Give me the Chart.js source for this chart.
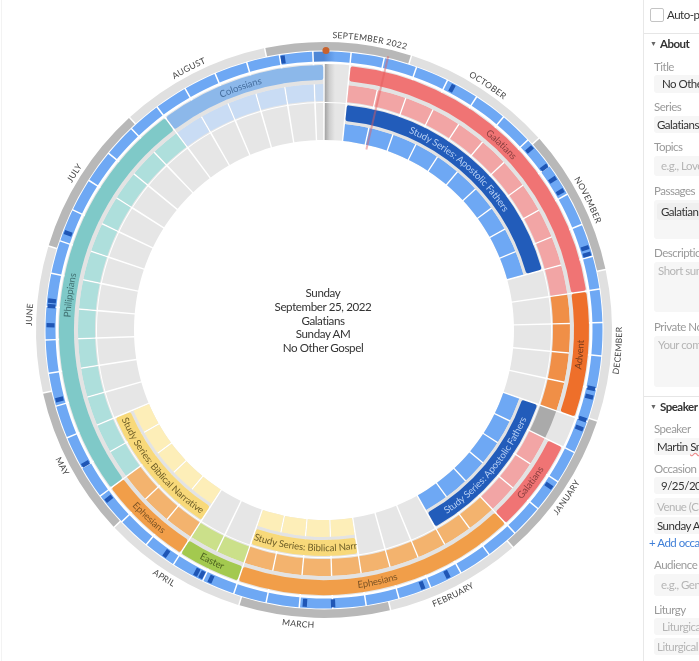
<!DOCTYPE html>
<html>
<head>
<meta charset="utf-8">
<script src="https://cdn.jsdelivr.net/npm/chart.js@4"></script>
<style>
    html, body { margin: 0; padding: 0; background: #fff; }
    body { width: 699px; height: 661px; overflow: hidden; position: relative; font-family: Lato, sans-serif; color: #333; }
    canvas, svg { position: absolute; }
    .layer { left: 24px; top: 30px; }
    #centerText { position: absolute; left: 223px; top: 286px; width: 200px; text-align: center; font-size: 11.6px; letter-spacing: -0.4px; line-height: 13.8px; color: #333; }
    #sidebar { position: absolute; left: 643px; top: 0; width: 56px; height: 661px; overflow: hidden; border-left: 1px solid #e8e8e8; font-size: 11.5px; letter-spacing: -0.5px; }
    #sidebar div { position: absolute; white-space: nowrap; }
    .lbl { left: 10px; color: #9a9a9a; }
    .val { left: 10px; right: -5px; background: #f6f6f6; border-radius: 3px; }
    .hr { left: 0; right: 0; height: 1px; background: #e6e6e6; }
    .head { left: 16px; font-weight: bold; color: #333; }
    .tri { left: 6px; font-size: 7px; color: #666; }
    .ph { color: #b5b5b5; }
</style>
</head>
<body>
<div style="position:absolute;left:1px;top:0;width:1px;height:661px;background:#f3f3f3"></div>
<canvas id="baseChart" class="layer" width="600" height="600"></canvas>
<canvas id="seriesChart" class="layer" width="600" height="600"></canvas>
<canvas id="todayChart" class="layer" width="600" height="600"></canvas>
<svg id="labels" width="699" height="661" style="left:0;top:0"></svg>
<div id="centerText">Sunday<br>September 25, 2022<br>Galatians<br>Sunday AM<br>No Other Gospel</div>

<div id="sidebar">
    <div style="left:6px;top:8px;width:12px;height:12px;border:1px solid #c4c4c4;border-radius:2px"></div>
    <div style="left:23px;top:8px;color:#333">Auto-pu</div>
    <div class="hr" style="top:33px"></div>
    <div class="tri" style="top:39px">▼</div><div class="head" style="top:37px">About</div>
    <div class="lbl" style="top:60px">Title</div>
    <div class="val" style="top:75px;height:18px;line-height:18px;padding-left:8px">No Other</div>
    <div class="lbl" style="top:100px">Series</div>
    <div class="val" style="top:116px;height:17px;line-height:17px;padding-left:3px">Galatians</div>
    <div class="lbl" style="top:140px">Topics</div>
    <div class="val ph" style="top:156px;height:20px;line-height:20px;padding-left:7px">e.g., Love</div>
    <div class="lbl" style="top:184px">Passages</div>
    <div class="val" style="top:200px;height:39px"></div>
    <div class="val" style="left:13px;top:203px;height:17px;line-height:17px;padding-left:4px;background:#efefef">Galatians</div>
    <div class="lbl" style="top:246px">Description</div>
    <div class="val ph" style="top:262px;height:50px;line-height:18px;padding-left:4px">Short sum</div>
    <div class="lbl" style="top:320px">Private Not</div>
    <div class="val ph" style="top:336px;height:51px;line-height:18px;padding-left:4px">Your comm</div>
    <div class="hr" style="top:396px"></div>
    <div class="tri" style="top:402px">▼</div><div class="head" style="top:400px">Speaker &amp;</div>
    <div class="lbl" style="top:422px">Speaker</div>
    <div class="val" style="top:438px;height:17px;line-height:17px;padding-left:3px">Martin <span style="text-decoration:underline wavy #e88">Sm</span></div>
    <div class="lbl" style="top:462px">Occasion</div>
    <div class="val" style="top:477px;height:17px;line-height:17px;padding-left:7px">9/25/202</div>
    <div class="val ph" style="top:498px;height:17px;line-height:17px;padding-left:3px">Venue (Ch</div>
    <div class="val" style="top:517px;height:17px;line-height:17px;padding-left:3px">Sunday Al</div>
    <div style="left:5px;top:536px;color:#3f7fd8">+ Add occas</div>
    <div class="lbl" style="top:558px">Audience</div>
    <div class="val ph" style="top:574px;height:22px;line-height:22px;padding-left:7px">e.g., Gene</div>
    <div class="lbl" style="top:603px">Liturgy</div>
    <div class="val ph" style="top:618px;height:17px;line-height:17px;padding-left:8px">Liturgica</div>
    <div class="val ph" style="top:638px;height:17px;line-height:17px;padding-left:3px">Liturgical</div>
</div>

<script>
// Months around the outer band, in days
const monthNames = ['SEPTEMBER 2022', 'OCTOBER', 'NOVEMBER', 'DECEMBER', 'JANUARY', 'FEBRUARY', 'MARCH', 'APRIL', 'MAY', 'JUNE', 'JULY', 'AUGUST'];
const monthDays = [30, 31, 30, 31, 31, 28, 31, 30, 31, 30, 31, 31];
const monthLabelAngles = [9, 33.8, 63.8, 94, 124.6, 154, 185, 212.8, 242.5, 273, 302.2, 332.7];

// Weekly blue cells, in days (the first one runs across the top seam)
const weekDays = [8, 7, 7, 7, 7, 7, 7, 7, 7, 7, 7, 7, 7, 7, 7, 7, 7, 7, 7, 7, 7, 7, 7, 7, 7, 7,
    7, 7, 7, 7, 7, 7, 7, 7, 7, 7, 7, 7, 7, 7, 7, 7, 7, 7, 7, 7, 7, 7, 7, 7, 7, 7];

// Sunday columns of the inner rings, in days, starting at the top seam
const columnDays = [5.7, 7, 7, 7, 7, 7, 7, 7, 7, 7, 7, 7, 7, 7, 7, 7, 7, 7, 7, 7, 7, 7, 7, 7, 7, 7, 7,
    7, 7, 7, 7, 7, 7, 7, 7, 7, 7, 7, 7, 7, 7, 7, 7, 7, 7, 7, 7, 7, 7, 7, 7, 7, 2.3];

// Sermon series, as runs of columns
const seriesNames = ['None', 'Galatians', 'Advent', 'Break', 'Galatians', 'Ephesians', 'Easter', 'Ephesians', 'Philippians', 'Colossians'];
const seriesWeeks = [1, 11, 4, 1, 3, 9, 2, 3, 13, 6];

// Study series, as runs of columns
const studyNames = ['None', 'Apostolic', 'None', 'Apostolic', 'None', 'Narrative', 'None', 'Narrative', 'None'];
const studyWeeks = [1, 10, 5, 6, 3, 4, 2, 5, 17];

// Dark marks on the weekly band, degrees clockwise from the top
const tickAngles = [27.9, 48.7, 53.6, 56.7, 59.7, 72.6, 74, 102.3, 104.1, 109, 111, 124.7, 153.3, 159, 178.1, 184,
    204.4, 206.5, 207.7, 215.2, 231.9, 240.7, 255.3, 271, 275, 276.1, 290.7, 351.4];

// Today line and the marker at the top
const todayAngle = 13.2;
const todayRadii = [285, 188];
const markerAngle = 0.4;
const markerRadius = 283.4;

// Curved labels: text, centre angle, ring radius, colour
const ringLabels = [
    ['Galatians', 43.7, 257, '#8a3f3f'],
    ['Advent', 95.5, 257, '#7a3d1c'],
    ['Galatians', 126.5, 257, '#8a3f3f'],
    ['Ephesians', 168, 257, '#7f5525'],
    ['Easter', 205.8, 257, '#4e6420'],
    ['Ephesians', 223, 257, '#7f5525'],
    ['Philippians', 277.8, 257, '#3f6f70'],
    ['Colossians', 341, 257, '#466f9f'],
    ['Study Series: Apostolic Fathers', 40, 218, '#b4cdf2'],
    ['Study Series: Apostolic Fathers', 130, 218, '#b4cdf2'],
    ['Study Series: Biblical Narrative', 230, 218, '#6f5f28']
];
const clippedLabel = ['Study Series: Biblical Narrative', 198.6, 171.6, 218, '#6f5f28'];

const outerColors = {
    None: 'transparent', Break: 'transparent', Galatians: '#f07474', Advent: '#ee6f2a', Ephesians: '#f19e49',
    Easter: '#a3c94f', Philippians: '#7fc9c8', Colossians: '#8cb8ea', Apostolic: '#225cba', Narrative: '#f8d97a'
};
const lightColors = {
    None: 'transparent', Break: '#aaaaaa', Galatians: '#f2a5a5', Advent: '#f08f47', Ephesians: '#f3b36e',
    Easter: '#cbe08a', Philippians: '#aedfdc', Colossians: '#c9dcf4', Apostolic: '#6ea8f4', Narrative: '#fdeeb8'
};
const stripColor = '#e3e3e3';
const cellGray = '#e6e6e6';

const GAP_PX = 1.5;
const OUTER_R = 288;
const CUTOUT = (190 / 288 * 100) + '%';
const DEG_PER_DAY = 360 / 365;

function sumRuns(runs) {
    // days covered by each run of columns
    let col = 0;
    return runs.map(n => {
        let total = 0;
        for (let i = 0; i < n; i++) total += columnDays[col + i];
        col += n;
        return total;
    });
}

function expandRuns(names, runs) {
    const out = [];
    names.forEach((name, i) => {
        for (let k = 0; k < runs[i]; k++) out.push(name);
    });
    return out;
}

function ring(data, colors, weight, extra) {
    return Object.assign({ data: data, backgroundColor: colors, weight: weight, borderWidth: 0, rotation: 0 }, extra || {});
}

function skip(weight) {
    return ring([1], ['transparent'], weight);
}

// A ring of cells with thin see-through slices between them, so the white lines keep their width
function cellRing(days, colors, weight, midRadius, extra) {
    const gapDeg = GAP_PX / midRadius * 180 / Math.PI;
    const gapDays = gapDeg / DEG_PER_DAY;
    const data = [];
    const fills = [];
    days.forEach((d, i) => {
        data.push(d - gapDays, gapDays);
        fills.push(colors[i], 'transparent');
    });
    const base = (extra && extra.rotation) || 0;
    return ring(data, fills, weight, Object.assign({}, extra, { rotation: base + gapDeg / 2 }));
}

function doughnutConfig(datasets) {
    return {
        type: 'doughnut',
        data: { datasets: datasets },
        options: {
            responsive: false,
            animation: false,
            radius: OUTER_R,
            cutout: CUTOUT,
            layout: { padding: 0 },
            elements: { arc: { borderWidth: 0 } },
            plugins: { legend: { display: false }, tooltip: { enabled: false } }
        }
    };
}

// Base layer: months, weeks and the gray cells
const baseCtx = document.getElementById('baseChart').getContext('2d');

const seamGray = baseCtx.createLinearGradient(300, 0, 311, 0);
seamGray.addColorStop(0, '#9b9b9b');
seamGray.addColorStop(0.5, '#cfcfcf');
seamGray.addColorStop(1, cellGray);

const seamBlue = baseCtx.createLinearGradient(300, 0, 311, 0);
seamBlue.addColorStop(0, '#4f87d6');
seamBlue.addColorStop(1, '#6ea8f4');

const monthColors = monthDays.map((d, i) => i % 2 === 0 ? '#b8b8b8' : '#e0e0e0');
const weekColors = weekDays.map((d, i) => i === 0 ? seamBlue : '#6ea8f4');
const cellColors = columnDays.map((d, i) => i === 0 ? seamGray : cellGray);

new Chart(baseCtx, doughnutConfig([
    cellRing(monthDays, monthColors, 8.5, 284, { rotation: -11.9 }),
    skip(1),
    cellRing(weekDays, weekColors, 10, 273, { rotation: -2.3 }),
    skip(2.5),
    cellRing(columnDays, cellColors, 38, 247),
    skip(1),
    cellRing(columnDays, cellColors, 37, 208)
]));

// Series layer: the coloured spans, their paler weekly cells, and the dark marks
const tickValues = [];
const tickColors = [];
let lastAngle = 0;
tickAngles.forEach(angle => {
    tickValues.push(angle - 0.45 - lastAngle, 0.9);
    tickColors.push('transparent', '#1f56b5');
    lastAngle = angle + 0.45;
});
tickValues.push(360 - lastAngle);
tickColors.push('transparent');

const seriesColumns = expandRuns(seriesNames, seriesWeeks);
const studyColumns = expandRuns(studyNames, studyWeeks);

new Chart(document.getElementById('seriesChart').getContext('2d'), doughnutConfig([
    skip(10.5),
    ring(tickValues, tickColors, 8),
    skip(4.5),
    cellRing(sumRuns(seriesWeeks), seriesNames.map(n => outerColors[n]), 15, 257, { borderRadius: 2 }),
    cellRing(sumRuns(seriesWeeks), seriesNames.map(n => (n === 'None' || n === 'Break') ? 'transparent' : stripColor), 4, 257),
    cellRing(columnDays, seriesColumns.map(n => lightColors[n]), 17, 247),
    skip(3),
    cellRing(sumRuns(studyWeeks), studyNames.map(n => outerColors[n]), 16, 208, { borderRadius: 2 }),
    cellRing(sumRuns(studyWeeks), studyNames.map(n => n === 'None' ? 'transparent' : stripColor), 3, 208),
    cellRing(columnDays, studyColumns.map(n => lightColors[n]), 17, 208)
]));

// Top layer: today line and marker, on hidden x/y scales centred on the wheel
function polar(radius, angle) {
    const rad = angle * Math.PI / 180;
    return { x: radius * Math.sin(rad), y: radius * Math.cos(rad) };
}

new Chart(document.getElementById('todayChart').getContext('2d'), {
    type: 'scatter',
    data: {
        datasets: [
            {
                data: todayRadii.map(r => polar(r, todayAngle)),
                showLine: true,
                borderColor: 'rgba(226, 90, 90, 0.45)',
                borderWidth: 2,
                pointRadius: 0
            },
            {
                data: [polar(markerRadius, markerAngle)],
                backgroundColor: '#c8622d',
                pointRadius: 3.5,
                pointBorderWidth: 0
            }
        ]
    },
    options: {
        responsive: false,
        animation: false,
        layout: { padding: 0 },
        scales: {
            x: { type: 'linear', min: -300, max: 300, display: false },
            y: { type: 'linear', min: -300, max: 300, display: false }
        },
        plugins: { legend: { display: false }, tooltip: { enabled: false } }
    }
});

// Curved text, as svg text on arcs around the wheel centre
const CX = 324;
const CY = 330;
const svg = document.getElementById('labels');
const NS = 'http://www.w3.org/2000/svg';
let pathCount = 0;

function pointAt(r, angle) {
    const rad = angle * Math.PI / 180;
    return (CX + r * Math.sin(rad)).toFixed(2) + ' ' + (CY - r * Math.cos(rad)).toFixed(2);
}

function addCurved(text, fromAngle, toAngle, r, color, size, spacing, anchor) {
    const id = 'arc' + (pathCount++);
    const path = document.createElementNS(NS, 'path');
    const sweep = toAngle > fromAngle ? 1 : 0;
    path.setAttribute('id', id);
    path.setAttribute('fill', 'none');
    path.setAttribute('d', 'M ' + pointAt(r, fromAngle) + ' A ' + r + ' ' + r + ' 0 0 ' + sweep + ' ' + pointAt(r, toAngle));
    svg.appendChild(path);

    const node = document.createElementNS(NS, 'text');
    node.setAttribute('fill', color);
    node.setAttribute('font-size', size);
    node.setAttribute('font-family', 'Lato, sans-serif');
    node.setAttribute('letter-spacing', spacing);
    node.setAttribute('text-anchor', anchor);
    const tp = document.createElementNS(NS, 'textPath');
    tp.setAttribute('href', '#' + id);
    tp.setAttribute('startOffset', anchor === 'middle' ? '50%' : '0%');
    tp.textContent = text;
    node.appendChild(tp);
    svg.appendChild(node);
}

function addCentred(text, angle, r, color, size, spacing, shift) {
    const flip = angle > 90 && angle < 270;
    if (flip) {
        addCurved(text, angle + 85, angle - 85, r + shift, color, size, spacing, 'middle');
    } else {
        addCurved(text, angle - 85, angle + 85, r - shift, color, size, spacing, 'middle');
    }
}

monthNames.forEach((name, i) => addCentred(name, monthLabelAngles[i], 295, '#444', 8.6, 0.3, 3));
ringLabels.forEach(l => addCentred(l[0], l[1], l[2], l[3], 9.6, -0.1, 3.2));
addCurved(clippedLabel[0], clippedLabel[1], clippedLabel[2], clippedLabel[3] + 3.2, clippedLabel[4], 9.6, -0.1, 'start');
</script>
</body>
</html>
